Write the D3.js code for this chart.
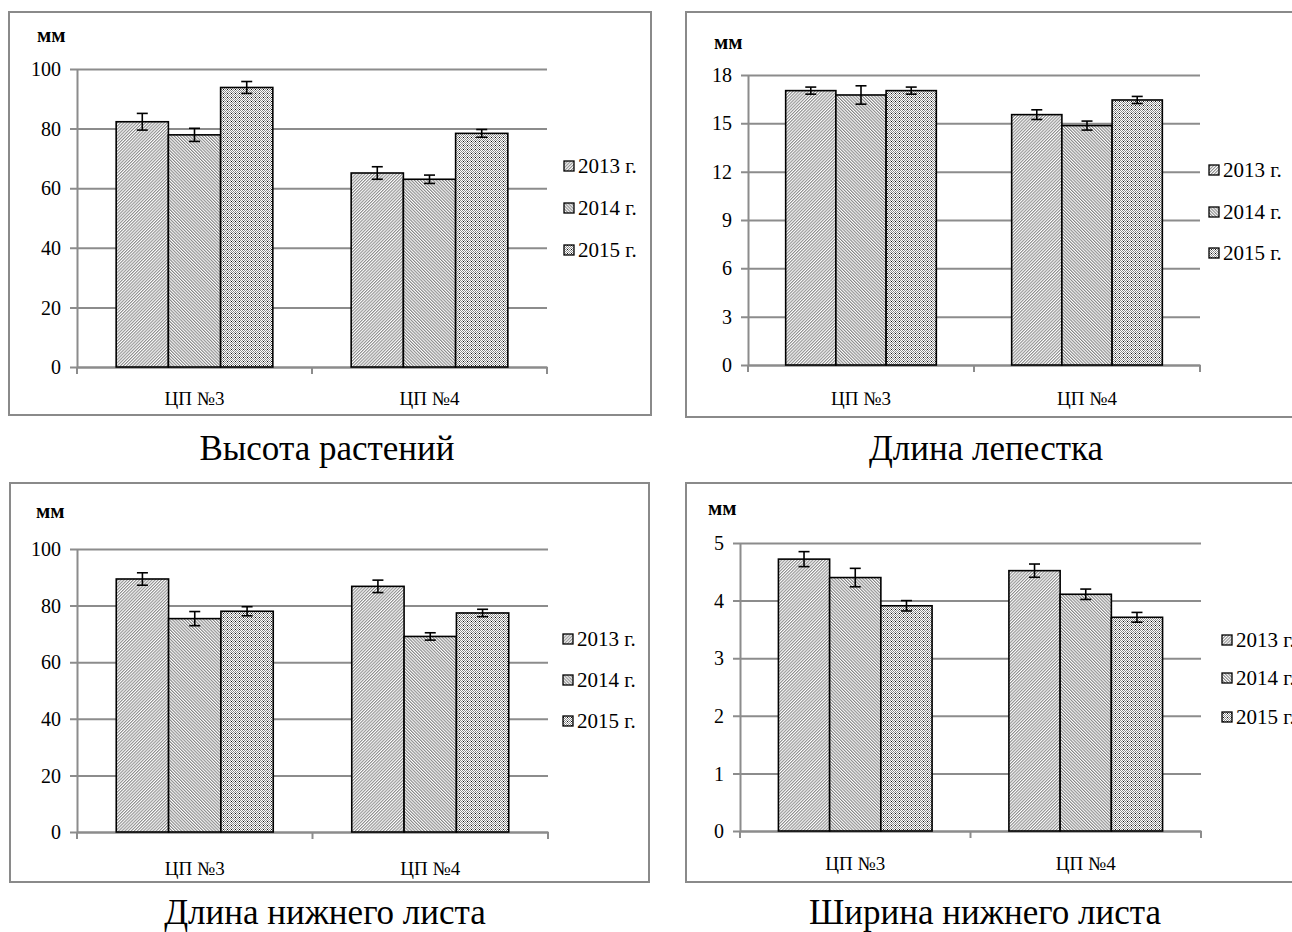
<!DOCTYPE html>
<html>
<head>
<meta charset="utf-8">
<script src="https://cdn.jsdelivr.net/npm/d3@7"></script>
<style>
  html, body { margin: 0; padding: 0; background: #fff; }
  svg { display: block; }
  svg text { font-family: "Liberation Serif", "Times New Roman", serif; fill: #000; }
</style>
</head>
<body>
<svg id="chart" width="1292" height="932"></svg>
<script>
// ---- data ----
const categories = ["ЦП №3", "ЦП №4"];
const years = ["2013 г.", "2014 г.", "2015 г."];
const unitLabel = "мм";

const titles = ["Высота растений", "Длина лепестка", "Длина нижнего листа", "Ширина нижнего листа"];

// plant height, mm: [ЦП №3, ЦП №4] per year
const heightValues = [[82.3, 65.1], [77.9, 63.0], [93.8, 78.4]];
const heightErrors = [[2.8, 2.1], [2.2, 1.4], [2.0, 1.3]];
const heightTicks = [0, 20, 40, 60, 80, 100];

// petal length, mm
const petalValues = [[17.03, 15.54], [16.76, 14.86], [17.03, 16.45]];
const petalErrors = [[0.22, 0.3], [0.57, 0.28], [0.22, 0.22]];
const petalTicks = [0, 3, 6, 9, 12, 15, 18];

// lower leaf length, mm
const leafLenValues = [[89.4, 86.8], [75.4, 69.1], [78.0, 77.4]];
const leafLenErrors = [[2.2, 2.2], [2.5, 1.3], [1.6, 1.3]];
const leafLenTicks = [0, 20, 40, 60, 80, 100];

// lower leaf width, mm
const leafWidValues = [[4.72, 4.52], [4.40, 4.11], [3.91, 3.71]];
const leafWidErrors = [[0.13, 0.115], [0.16, 0.09], [0.09, 0.085]];
const leafWidTicks = [0, 1, 2, 3, 4, 5];

// ---- layout ----
const panels = [
  { values: heightValues, errors: heightErrors, ticks: heightTicks, title: titles[0],
    frame: [9, 12, 651, 415], x0: 77, x1: 547, yTop: 69, yBot: 367,
    unit: [37, 42], legX: 564, legY: [166, 208, 250], catY: 398, titleXY: [327, 460] },
  { values: petalValues, errors: petalErrors, ticks: petalTicks, title: titles[1],
    frame: [686, 12, 1310, 417], x0: 748, x1: 1200, yTop: 75, yBot: 365,
    unit: [714, 49], legX: 1209, legY: [170, 212, 253], catY: 398, titleXY: [986, 460] },
  { values: leafLenValues, errors: leafLenErrors, ticks: leafLenTicks, title: titles[2],
    frame: [10, 483, 649, 882], x0: 77, x1: 548, yTop: 549, yBot: 832,
    unit: [36, 518], legX: 563, legY: [639, 680, 721], catY: 868, titleXY: [325, 924] },
  { values: leafWidValues, errors: leafWidErrors, ticks: leafWidTicks, title: titles[3],
    frame: [686, 483, 1310, 882], x0: 740, x1: 1201, yTop: 543, yBot: 831,
    unit: [708, 515], legX: 1222, legY: [640, 678, 717], catY: 863, titleXY: [985, 924] }
];

const FONT = "'Liberation Serif', 'Times New Roman', serif";
const svg = d3.select("#chart");
const defs = svg.append("defs");

// fine hatch fills for the three years
function hatch(id, angle, color) {
  const p = defs.append("pattern").attr("id", id)
    .attr("patternUnits", "userSpaceOnUse").attr("width", 2.2).attr("height", 2.2)
    .attr("patternTransform", `rotate(${angle})`);
  p.append("rect").attr("width", 2.2).attr("height", 2.2).attr("fill", "#fff");
  p.append("rect").attr("width", 1.1).attr("height", 2.2).attr("fill", color);
}
hatch("fill2013", 45, "#8e8e8e");
hatch("fill2014", -45, "#868686");
(function () {
  const p = defs.append("pattern").attr("id", "fill2015")
    .attr("patternUnits", "userSpaceOnUse").attr("width", 4).attr("height", 4);
  p.append("rect").attr("width", 4).attr("height", 4).attr("fill", "#fff");
  [[0, 0], [2, 0], [1, 1], [3, 1], [0, 2], [2, 2], [1, 3], [3, 3]].forEach(([cx, cy]) => {
    p.append("rect").attr("x", cx).attr("y", cy).attr("width", 1).attr("height", 1).attr("fill", "#8c8c8c");
  });
  p.append("rect").attr("x", 3).attr("y", 1).attr("width", 1).attr("height", 1).attr("fill", "#111");
})();
const fills = ["url(#fill2013)", "url(#fill2014)", "url(#fill2015)"];

const gridColor = "#8c8c8c";

panels.forEach(cfg => {
  const g = svg.append("g");
  const [fx0, fy0, fx1, fy1] = cfg.frame;

  g.append("rect").attr("x", fx0).attr("y", fy0)
    .attr("width", fx1 - fx0).attr("height", fy1 - fy0)
    .attr("fill", "#fff").attr("stroke", "#8a8a8a").attr("stroke-width", 2);

  const yMax = cfg.ticks[cfg.ticks.length - 1];
  const y = d3.scaleLinear().domain([0, yMax]).range([cfg.yBot, cfg.yTop]);
  const x = d3.scaleBand().domain(categories).range([cfg.x0, cfg.x1]).paddingInner(0).paddingOuter(0);
  const bw = x.bandwidth() / 4.5;
  const xs = d3.scaleBand().domain(years).range([0.75 * bw, 3.75 * bw]);

  // gridlines + y axis
  const yAxis = d3.axisLeft(y).tickValues(cfg.ticks).tickFormat(d3.format("d"))
    .tickSize(-(cfg.x1 - cfg.x0)).tickSizeOuter(0);
  const ya = g.append("g").attr("transform", `translate(${cfg.x0},0)`).call(yAxis)
    .attr("font-family", null).attr("font-size", null);
  ya.select(".domain").attr("stroke", gridColor).attr("stroke-width", 2);
  ya.selectAll(".tick line").attr("stroke", gridColor).attr("stroke-width", 2)
    .attr("x1", -7);
  ya.selectAll(".tick text")
    .style("font-family", FONT).style("font-size", "20px")
    .attr("dy", "0.33em").attr("x", -16);

  // x axis
  const xAxis = d3.axisBottom(x).tickValues([]).tickSizeOuter(0);
  const xa = g.append("g").attr("transform", `translate(0,${cfg.yBot})`).call(xAxis);
  xa.select(".domain").attr("stroke", gridColor).attr("stroke-width", 2);
  const bounds = [cfg.x0, (cfg.x0 + cfg.x1) / 2, cfg.x1];
  xa.selectAll(".xt").data(bounds).enter().append("line")
    .attr("x1", d => d).attr("x2", d => d).attr("y1", 0).attr("y2", 7)
    .attr("stroke", gridColor).attr("stroke-width", 2);
  g.selectAll(".cat").data(categories).enter().append("text")
    .attr("x", d => x(d) + x.bandwidth() / 2).attr("y", cfg.catY)
    .attr("text-anchor", "middle").attr("dy", "0.35em")
    .style("font-family", FONT).style("font-size", "19px").text(d => d);

  // bars
  years.forEach((yr, si) => {
    const gs = g.append("g");
    gs.selectAll("rect").data(categories).enter().append("rect")
      .attr("x", c => x(c) + xs(yr))
      .attr("y", (c, ci) => y(cfg.values[si][ci]))
      .attr("width", xs.bandwidth())
      .attr("height", (c, ci) => cfg.yBot - y(cfg.values[si][ci]))
      .attr("fill", fills[si]).attr("stroke", "#000").attr("stroke-width", 1.6);
  });

  // error bars
  years.forEach((yr, si) => {
    categories.forEach((c, ci) => {
      const cx = x(c) + xs(yr) + xs.bandwidth() / 2;
      const v = cfg.values[si][ci], e = cfg.errors[si][ci];
      const eg = g.append("g").attr("stroke", "#000").attr("stroke-width", 1.6);
      eg.append("line").attr("x1", cx).attr("x2", cx).attr("y1", y(v + e)).attr("y2", y(v - e));
      eg.append("line").attr("x1", cx - 5.5).attr("x2", cx + 5.5).attr("y1", y(v + e)).attr("y2", y(v + e));
      eg.append("line").attr("x1", cx - 5.5).attr("x2", cx + 5.5).attr("y1", y(v - e)).attr("y2", y(v - e));
    });
  });

  // unit label
  g.append("text").attr("x", cfg.unit[0]).attr("y", cfg.unit[1])
    .style("font-family", FONT).style("font-size", "21px").style("font-weight", "bold").text(unitLabel);

  // legend
  years.forEach((yr, si) => {
    const ly = cfg.legY[si];
    g.append("rect").attr("x", cfg.legX).attr("y", ly - 5).attr("width", 10).attr("height", 10)
      .attr("fill", fills[si]).attr("stroke", "#000").attr("stroke-width", 1.3);
    g.append("text").attr("x", cfg.legX + 14).attr("y", ly).attr("dy", "0.35em")
      .style("font-family", FONT).style("font-size", "21px").text(yr);
  });

  // caption under the panel
  svg.append("text").attr("x", cfg.titleXY[0]).attr("y", cfg.titleXY[1])
    .attr("text-anchor", "middle")
    .style("font-family", FONT).style("font-size", "35px").text(cfg.title);
});
</script>
</body>
</html>
